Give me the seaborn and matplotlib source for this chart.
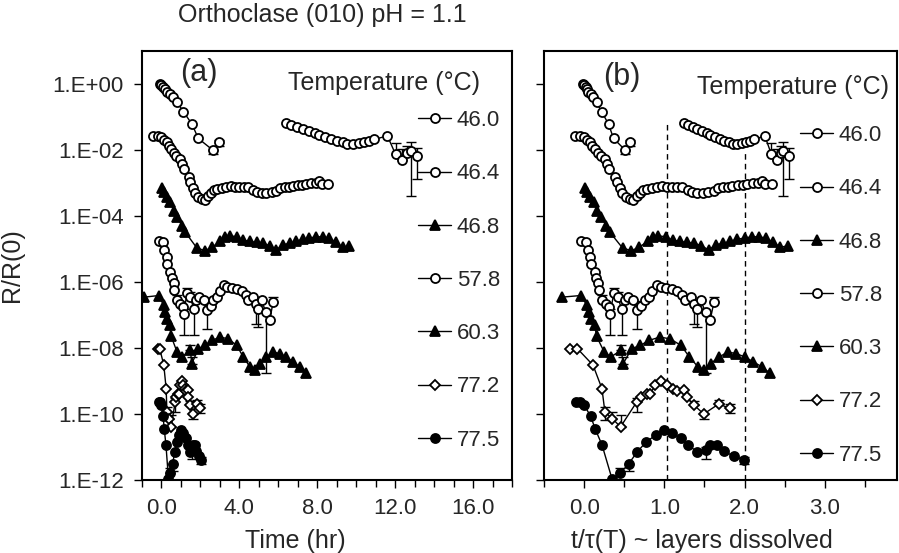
import numpy as np
import pandas as pd
import matplotlib
matplotlib.use("Agg")
import matplotlib.pyplot as plt
import seaborn as sns
from matplotlib.lines import Line2D
from matplotlib.ticker import MultipleLocator, NullLocator

sns.set_style("ticks")
plt.rcParams['font.family'] = ['Liberation Sans', 'DejaVu Sans']

# ---------------- data ----------------
temperatures = ["46.0", "46.4", "46.8", "57.8", "60.3", "77.2", "77.5"]
tau_hr = [5.15, 3.65, 3.8, 3.54, 3.2, 1.08, 1.03]   # tau(T) in hours

# 46.0 C  (two segments)
t_460_a = [-0.09, 0.0, 0.09, 0.17, 0.28, 0.43, 0.60, 0.81, 1.13, 1.57, 1.89, 2.63, 2.96]
logr_460_a = [0.01, -0.03, -0.09, -0.15, -0.23, -0.31, -0.39, -0.56, -0.84, -1.22, -1.65, -2.0, -1.77]
t_460_b = [6.38, 6.67, 6.96, 7.26, 7.55, 7.86, 8.11, 8.4, 8.71, 9.01, 9.3, 9.55, 9.81, 10.12,
           10.39, 10.66, 10.93, 11.6, 12.02, 12.36, 12.62, 12.79, 13.13]
logr_460_b = [-1.19, -1.25, -1.30, -1.36, -1.42, -1.49, -1.54, -1.62, -1.68, -1.74, -1.77, -1.81,
              -1.82, -1.79, -1.75, -1.72, -1.68, -1.57, -2.13, -2.31, -2.08, -2.03, -2.18]

# 46.4 C
t_464 = [-0.42, -0.19, -0.02, 0.12, 0.26, 0.37, 0.49, 0.63, 0.77, 0.94, 1.05, 1.14, 1.39, 1.48,
         1.62, 1.73, 1.9, 2.07, 2.24, 2.41, 2.53, 2.7, 2.87, 3.1, 3.32, 3.56, 3.78, 4.0, 4.23,
         4.46, 4.71, 4.91, 5.14, 5.39, 5.65, 5.9, 6.11, 6.33, 6.55, 6.75, 7.01, 7.23, 7.43,
         7.69, 7.91, 8.11, 8.25, 8.54]
logr_464 = [-1.57, -1.57, -1.62, -1.69, -1.77, -1.87, -1.97, -2.08, -2.18, -2.28, -2.43, -2.58,
            -2.81, -2.98, -3.15, -3.29, -3.42, -3.49, -3.52, -3.39, -3.29, -3.21, -3.18, -3.15,
            -3.11, -3.08, -3.13, -3.11, -3.13, -3.11, -3.21, -3.26, -3.29, -3.29, -3.26, -3.24,
            -3.15, -3.13, -3.11, -3.08, -3.06, -3.05, -3.03, -3.01, -3.01, -2.95, -3.03, -3.03]

# 46.8 C
t_468 = [0.03, 0.15, 0.3, 0.46, 0.63, 0.8, 1.06, 1.22, 1.82, 2.24, 2.59, 3.01, 3.27, 3.52, 3.86,
         4.2, 4.54, 4.88, 5.22, 5.56, 5.9, 6.24, 6.58, 6.92, 7.26, 7.6, 7.94, 8.28, 8.62, 8.96,
         9.3, 9.64]
logr_468 = [-3.16, -3.27, -3.42, -3.59, -3.84, -4.04, -4.29, -4.49, -4.97, -5.05, -4.95, -4.77,
            -4.63, -4.6, -4.63, -4.73, -4.77, -4.8, -4.83, -4.9, -5.03, -4.87, -4.83, -4.77,
            -4.7, -4.67, -4.63, -4.63, -4.67, -4.8, -4.95, -4.9]

# 57.8 C
t_578 = [-0.14, 0.09, 0.15, 0.26, 0.29, 0.46, 0.54, 0.63, 0.66, 0.8, 0.97, 1.11, 1.14, 1.31,
         1.48, 1.65, 1.79, 1.95, 2.16, 2.33, 2.53, 2.67, 2.87, 3.01, 3.21, 3.38, 3.61, 3.86,
         4.12, 4.34, 4.46, 4.71, 4.85, 4.96, 5.14, 5.36, 5.56, 5.73]
logr_578 = [-4.77, -4.8, -5.03, -5.23, -5.45, -5.7, -5.87, -6.04, -6.24, -6.54, -6.66, -6.76,
            -6.98, -6.34, -6.44, -6.81, -6.56, -6.46, -6.56, -6.84, -6.74, -6.56, -6.46, -6.26,
            -6.08, -6.14, -6.18, -6.21, -6.28, -6.38, -6.54, -6.46, -6.66, -6.81, -6.56, -6.91,
            -7.16, -6.61]

# 60.3 C
t_603 = [-0.9, -0.14, 0.12, 0.2, 0.29, 0.42, 0.5, 0.8, 1.06, 1.48, 1.56, 1.9, 2.24, 2.59, 3.01,
         3.43, 3.86, 4.2, 4.54, 4.8, 5.05, 5.39, 5.73, 6.07, 6.41, 6.75, 7.09, 7.43]
logr_603 = [-6.46, -6.41, -6.71, -6.91, -7.11, -7.31, -7.65, -8.12, -8.27, -8.07, -8.47, -8.02,
            -7.92, -7.77, -7.67, -7.72, -7.92, -8.27, -8.57, -8.67, -8.47, -8.27, -8.12, -8.17,
            -8.27, -8.42, -8.57, -8.77]

# 77.2 C
t_772 = [-0.19, -0.09, 0.12, 0.24, 0.28, 0.38, 0.49, 0.71, 0.76, 0.84, 0.89, 0.96, 1.04, 1.11,
         1.19, 1.25, 1.34, 1.38, 1.48, 1.61, 1.81, 1.97]
logr_772 = [-8.02, -8.02, -8.52, -9.23, -9.94, -10.14, -10.39, -9.63, -9.48, -9.38, -9.38, -9.13,
            -9.0, -9.13, -9.23, -9.3, -9.28, -9.48, -9.73, -10.0, -9.7, -9.83]

# 77.5 C
t_775 = [-0.11, -0.05, 0.0, 0.085, 0.14, 0.23, 0.36, 0.46, 0.57, 0.68, 0.8, 0.92, 1.02, 1.13,
         1.24, 1.34, 1.45, 1.56, 1.62, 1.71, 1.79, 1.93, 2.05]
logr_775 = [-9.63, -9.63, -9.73, -10.07, -10.44, -10.94, -11.98, -11.8, -11.52, -11.15, -10.84,
            -10.64, -10.47, -10.59, -10.74, -10.94, -11.15, -11.1, -10.94, -10.94, -11.13,
            -11.28, -11.4]

# error bars: (point index, decades below, decades above)
err_460_b = [(18, 0.0, 0.33), (19, 0.0, 0.34), (20, 0.0, 0.2), (21, 1.36, 0.26), (22, 0.7, 0.24)]
err_460_a = [(11, 0.12, 0.0), (12, 0.1, 0.08)]
err_578 = [(9, 0.0, 0.15), (12, 0.64, 0.15), (13, 0.0, 0.15), (14, 0.0, 0.15), (15, 0.81, 0.0),
           (19, 0.58, 0.0), (20, 0.0, 0.15), (30, 0.0, 0.15), (32, 0.6, 0.0), (33, 0.56, 0.0),
           (35, 1.86, 0.0), (37, 0.0, 0.15)]
err_603 = [(9, 0.0, 0.15), (10, 0.0, 0.2)]
err_772 = [(4, 0.25, 0.15), (5, 0.0, 0.2), (6, 0.0, 0.35), (7, 0.3, 0.1), (18, 0.0, 0.12),
           (19, 0.15, 0.0), (20, 0.0, 0.12), (21, 0.15, 0.12)]
err_775 = [(7, 0.0, 0.15), (8, 0.2, 0.0), (17, 0.25, 0.1), (22, 0.1, 0.1)]

# layer markers (dashed lines in panel b)
layer_lines = [1.03, 2.0]
layer_line_tops = [7.1e-2, 8.3e-3]

ytick_vals = [1e0, 1e-2, 1e-4, 1e-6, 1e-8, 1e-10, 1e-12]
ytick_labels = ["1.E+00", "1.E-02", "1.E-04", "1.E-06", "1.E-08", "1.E-10", "1.E-12"]
xticks_a = [0, 4, 8, 12, 16]
xticklabels_a = ["0.0", "4.0", "8.0", "12.0", "16.0"]
xticks_b = [0, 1, 2, 3]
xticklabels_b = ["0.0", "1.0", "2.0", "3.0"]

# ---------------- build table ----------------
series_t = [[t_460_a, t_460_b], [t_464], [t_468], [t_578], [t_603], [t_772], [t_775]]
series_l = [[logr_460_a, logr_460_b], [logr_464], [logr_468], [logr_578], [logr_603],
            [logr_772], [logr_775]]
series_err = [[err_460_a, err_460_b], [[]], [[]], [err_578], [err_603], [err_772], [err_775]]

rows = []
for temp, tau, tsegs, lsegs in zip(temperatures, tau_hr, series_t, series_l):
    for s, (tt, ll) in enumerate(zip(tsegs, lsegs)):
        for ti, li in zip(tt, ll):
            rows.append(dict(temp=temp, seg=s, t=ti, layers=ti / tau, R=10.0 ** li))
df = pd.DataFrame(rows)

styles = {
    "46.0": dict(marker="o", ms=6.5, mfc="white"),
    "46.4": dict(marker="o", ms=6.5, mfc="white"),
    "46.8": dict(marker="^", ms=7.5, mfc="black"),
    "57.8": dict(marker="o", ms=6.5, mfc="white"),
    "60.3": dict(marker="^", ms=7.5, mfc="black"),
    "77.2": dict(marker="D", ms=5.5, mfc="white"),
    "77.5": dict(marker="o", ms=6.5, mfc="black"),
}

fig = plt.figure(figsize=(8.99, 5.53), dpi=100)
axa = fig.add_axes([142 / 899, 73 / 553, 370 / 899, 429 / 553])
axb = fig.add_axes([544 / 899, 73 / 553, 353 / 899, 429 / 553])

for ax, xcol in [(axa, "t"), (axb, "layers")]:
    ax.set_yscale("log")
    for temp, tau, tsegs, lsegs, esegs in zip(temperatures, tau_hr, series_t, series_l, series_err):
        st = styles[temp]
        sub = df[df.temp == temp]
        # error bars
        for tt, ll, ee in zip(tsegs, lsegs, esegs):
            if not ee:
                continue
            xs, ys, lo, hi = [], [], [], []
            for idx, dlo, dhi in ee:
                v = 10.0 ** ll[idx]
                xs.append(tt[idx] if xcol == "t" else tt[idx] / tau)
                ys.append(v)
                lo.append(v - v * 10.0 ** (-dlo))
                hi.append(v * 10.0 ** dhi - v)
            ax.errorbar(xs, ys, yerr=[lo, hi], fmt="none", ecolor="black",
                        elinewidth=1.0, capsize=3.5, capthick=1.0, zorder=2)
        sns.lineplot(data=sub, x=xcol, y="R", units="seg", estimator=None, sort=False,
                     color="black", linewidth=1.0, marker=st["marker"], markersize=st["ms"],
                     markerfacecolor=st["mfc"], markeredgecolor="black",
                     markeredgewidth=1.3, ax=ax, legend=False, zorder=3)
    ax.set_ylim(1e-12, 10)
    ax.set_yticks(ytick_vals)
    ax.yaxis.set_minor_locator(NullLocator())
    for sp in ax.spines.values():
        sp.set_linewidth(1.5)
        sp.set_color("black")
    ax.tick_params(axis="both", which="major", direction="out", length=6, width=1,
                   labelsize=16, pad=7, color="black")
    ax.tick_params(axis="x", which="minor", direction="out", length=5, width=1, color="black")

axa.set_xlim(-1, 18)
axa.set_xticks(xticks_a)
axa.set_xticklabels(xticklabels_a)
axa.xaxis.set_minor_locator(MultipleLocator(1))
axa.set_yticklabels(ytick_labels)
axa.set_xlabel("Time (hr)", fontsize=18)
axa.xaxis.set_label_coords(0.414, -0.114)
axa.set_ylabel("R/R(0)", fontsize=18)
axa.yaxis.set_label_coords(-0.319, 0.5)

axb.set_xlim(-0.5, 3.9)
axb.set_xticks(xticks_b)
axb.set_xticklabels(xticklabels_b)
axb.xaxis.set_minor_locator(MultipleLocator(0.5))
axb.set_yticklabels([])
axb.set_ylabel("")
axb.set_xlabel("t/\u03c4(T) ~ layers dissolved", fontsize=18)
axb.xaxis.set_label_coords(0.448, -0.114)

axb.vlines(layer_lines, 1e-12, layer_line_tops, colors="black", linestyles=(0, (4, 3)),
           linewidth=1.0, zorder=1)

# legends
handles = [Line2D([], [], color="black", linewidth=1.0, marker=styles[t]["marker"],
                  markersize=styles[t]["ms"], markerfacecolor=styles[t]["mfc"],
                  markeredgecolor="black", markeredgewidth=1.3) for t in temperatures]
for ax, bx, by in [(axa, 0.746, 0.862), (axb, 0.725, 0.827)]:
    ax.legend(handles, temperatures, loc="upper left", bbox_to_anchor=(bx, by),
              frameon=False, fontsize=16, handlelength=1.5, handletextpad=0.25,
              labelspacing=1.45, borderpad=0, borderaxespad=0)

axa.text(0.395, 0.925, "Temperature (\u00b0C)", transform=axa.transAxes, fontsize=18,
         ha="left", va="center")
axb.text(0.433, 0.916, "Temperature (\u00b0C)", transform=axb.transAxes, fontsize=18,
         ha="left", va="center")
axa.text(0.103, 0.949, "(a)", transform=axa.transAxes, fontsize=22, ha="left", va="center")
axb.text(0.167, 0.939, "(b)", transform=axb.transAxes, fontsize=22, ha="left", va="center")

fig.text(322 / 899, 1 - 15 / 553, "Orthoclase (010) pH = 1.1", fontsize=18,
         ha="center", va="center")

fig.savefig("out.png", dpi=100)
